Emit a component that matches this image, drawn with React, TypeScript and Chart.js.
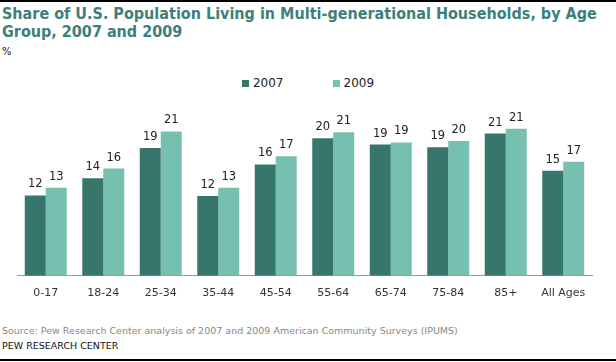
import React, { useEffect, useRef } from "react";
import { Chart, registerables } from "chart.js";

Chart.register(...registerables);

const categories = ["0-17", "18-24", "25-34", "35-44", "45-54", "55-64", "65-74", "75-84", "85+", "All Ages"];
const values2007 = [11.7, 14.2, 18.6, 11.6, 16.2, 20.0, 19.1, 18.7, 20.7, 15.3];
const values2009 = [12.8, 15.6, 21.0, 12.8, 17.4, 20.9, 19.4, 19.6, 21.4, 16.6];
const labels2007 = ["12", "14", "19", "12", "16", "20", "19", "19", "21", "15"];
const labels2009 = ["13", "16", "21", "13", "17", "21", "19", "20", "21", "17"];
const seriesNames = ["2007", "2009"];

const DARK = "#37766a";
const LIGHT = "#77bfaf";
const TITLE_COLOR = "#3e7f7a";

const dataLabelPlugin = {
  id: "dataLabels",
  afterDatasetsDraw(chart: any) {
    const ctx = chart.ctx;
    const texts = [labels2007, labels2009];
    ctx.save();
    ctx.font = "11.5px 'DejaVu Sans', Verdana, sans-serif";
    ctx.fillStyle = "#222";
    ctx.textAlign = "center";
    ctx.textBaseline = "alphabetic";
    chart.data.datasets.forEach((_ds: any, di: number) => {
      const meta = chart.getDatasetMeta(di);
      meta.data.forEach((bar: any, i: number) => {
        ctx.fillText(texts[di][i], bar.x, bar.y - 8);
      });
    });
    ctx.restore();
  },
};

export default function App() {
  const canvasRef = useRef<HTMLCanvasElement | null>(null);

  useEffect(() => {
    document.body.style.margin = "0";
    const canvas = canvasRef.current;
    if (!canvas) return;
    const chart = new Chart(canvas, {
      type: "bar",
      data: {
        labels: categories,
        datasets: [
          { label: seriesNames[0], data: values2007, backgroundColor: DARK, borderWidth: 0 },
          { label: seriesNames[1], data: values2009, backgroundColor: LIGHT, borderWidth: 0 },
        ],
      },
      options: {
        responsive: false,
        animation: false,
        maintainAspectRatio: false,
        layout: { padding: { top: 9, left: 17, right: 24, bottom: 0 } },
        datasets: { bar: { categoryPercentage: 0.73, barPercentage: 1.0 } },
        plugins: {
          legend: { display: false },
          tooltip: { enabled: false },
          title: { display: false },
        },
        scales: {
          x: {
            grid: { display: false, drawTicks: false },
            border: { display: true, color: "#999", width: 1 },
            ticks: {
              color: "#333",
              padding: 11,
              font: { family: "'DejaVu Sans', Verdana, sans-serif", size: 11 },
              maxRotation: 0,
              autoSkip: false,
            },
          },
          y: {
            display: false,
            min: 0,
            max: 25,
          },
        },
      },
      plugins: [dataLabelPlugin],
    });
    return () => chart.destroy();
  }, []);

  const legendItem = (color: string, text: string) => (
    <div style={{ display: "flex", alignItems: "center" }}>
      <div style={{ width: 7, height: 7, background: color, marginRight: 4 }} />
      <span>{text}</span>
    </div>
  );

  return (
    <div style={{ position: "relative", width: 616, height: 362, background: "#fff", overflow: "hidden", fontFamily: "'DejaVu Sans', Verdana, sans-serif" }}>
      <div style={{ position: "absolute", left: 0, top: 0, width: 616, height: 2, background: "#000" }} />
      <div
        style={{
          position: "absolute",
          left: 2,
          top: 5,
          fontFamily: "'DejaVu Sans Condensed', 'DejaVu Sans', sans-serif",
          fontWeight: "bold",
          fontSize: 16,
          lineHeight: "18px",
          color: TITLE_COLOR,
          whiteSpace: "nowrap",
        }}
      >
        Share of U.S. Population Living in Multi-generational Households, by Age
        <br />
        Group, 2007 and 2009
      </div>
      <div style={{ position: "absolute", left: 2, top: 46, fontSize: 10, color: "#222" }}>%</div>
      <div
        style={{
          position: "absolute",
          left: 0,
          top: 76,
          width: 616,
          display: "flex",
          justifyContent: "center",
          gap: 49,
          fontSize: 12,
          color: "#222",
          lineHeight: "14px",
        }}
      >
        {legendItem(DARK, seriesNames[0])}
        {legendItem(LIGHT, seriesNames[1])}
      </div>
      <canvas
        ref={canvasRef}
        width={616}
        height={216}
        style={{ position: "absolute", left: 0, top: 95, width: 616, height: 216 }}
      />
      <div style={{ position: "absolute", left: 2, top: 325, fontSize: 9.5, color: "#888", whiteSpace: "nowrap" }}>
        Source: Pew Research Center analysis of 2007 and 2009 American Community Surveys (IPUMS)
      </div>
      <div style={{ position: "absolute", left: 2, top: 340, fontSize: 9.5, color: "#111", whiteSpace: "nowrap" }}>
        PEW RESEARCH CENTER
      </div>
      <div style={{ position: "absolute", left: 0, top: 359, width: 616, height: 2, background: "#000" }} />
    </div>
  );
}
